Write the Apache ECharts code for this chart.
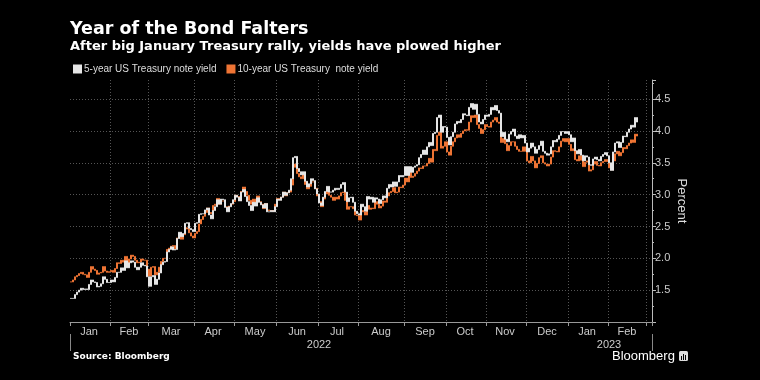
<!DOCTYPE html>
<html>
<head>
<meta charset="utf-8">
<script src="https://cdn.jsdelivr.net/npm/echarts@6/dist/echarts.min.js"></script>
<style>html,body{margin:0;padding:0;background:#000;}#c{width:760px;height:380px;}</style>
</head>
<body>
<div id="c"></div>
<script>
// ---- Data (daily closes) ----
const seriesNames = ['5-year US Treasury note yield', '10-year US Treasury  note yield'];
const startDate = '2022-01-03';
const endDate = '2023-03-03';
const holidays = ['2022-01-17','2022-02-21','2022-04-15','2022-05-30','2022-06-20','2022-07-04','2022-09-05','2022-10-10','2022-11-11','2022-11-24','2022-12-26','2023-01-02','2023-01-16','2023-02-20'];
const yTicks = [1.5, 2.0, 2.5, 3.0, 3.5, 4.0, 4.5];
const monthNames = ['Jan','Feb','Mar','Apr','May','Jun','Jul','Aug','Sep','Oct','Nov','Dec'];

const yield5 = [
  // Jan 2022
  1.37,1.37,1.43,1.47,1.50,1.53,1.51,1.52,1.51,1.59,1.66,1.63,1.62,1.55,1.56,1.60,1.71,1.67,1.62,1.62,
  // Feb
  1.66,1.63,1.70,1.78,1.78,1.85,1.81,1.96,1.85,1.93,1.96,1.94,1.86,1.82,1.86,1.93,1.89,1.88,1.71,
  // Mar
  1.56,1.71,1.73,1.59,1.67,1.77,1.90,1.94,1.95,2.10,2.14,2.18,2.13,2.14,2.31,2.41,2.34,2.39,2.55,2.56,2.47,2.45,2.42,
  // Apr
  2.55,2.56,2.69,2.70,2.70,2.76,2.79,2.68,2.62,2.75,2.81,2.92,2.85,2.93,2.92,2.80,2.73,2.81,2.86,2.92,
  // May
  2.99,2.96,2.90,3.04,3.08,2.97,2.89,2.83,2.75,2.88,2.82,2.95,2.88,2.84,2.79,2.86,2.73,2.73,2.75,2.73,2.81,
  // Jun
  2.93,2.91,2.96,3.04,2.99,3.03,3.07,3.25,3.58,3.60,3.41,3.36,3.31,3.36,3.21,3.12,3.17,3.25,3.22,3.09,3.01,
  // Jul
  2.87,2.83,2.96,3.05,3.13,3.04,3.04,3.07,3.10,3.08,3.10,3.16,3.19,3.04,2.89,2.95,2.96,2.88,2.74,2.70,
  // Aug
  2.68,2.85,2.81,2.74,2.97,2.93,2.96,2.88,2.95,2.93,2.86,2.92,2.98,2.95,3.10,3.16,3.12,3.20,3.13,3.20,3.30,3.28,3.30,
  // Sep
  3.44,3.30,3.44,3.35,3.43,3.45,3.47,3.58,3.63,3.70,3.63,3.75,3.82,3.77,3.96,3.98,4.21,4.25,3.98,4.07,4.06,
  // Oct
  3.90,3.78,3.91,3.98,4.11,4.15,4.13,4.18,4.27,4.25,4.24,4.37,4.43,4.34,4.42,4.26,4.14,4.11,4.18,4.25,
  // Nov
  4.23,4.26,4.37,4.33,4.40,4.32,4.28,3.91,3.98,3.87,3.83,3.95,3.99,4.03,3.92,3.88,3.94,3.89,3.93,3.81,
  // Dec
  3.67,3.73,3.81,3.75,3.65,3.71,3.77,3.84,3.68,3.65,3.62,3.64,3.75,3.85,3.83,3.87,3.93,3.99,3.99,3.96,3.99,
  // Jan 2023
  3.94,3.83,3.89,3.69,3.64,3.71,3.62,3.53,3.61,3.59,3.47,3.46,3.56,3.59,3.55,3.53,3.60,3.63,3.66,3.61,
  // Feb 2023
  3.50,3.38,3.67,3.81,3.83,3.74,3.82,3.92,3.91,3.98,4.03,4.09,4.06,4.21,4.14
];

const yield10 = [
  // Jan 2022
  1.63,1.66,1.71,1.73,1.76,1.78,1.75,1.74,1.70,1.78,1.87,1.83,1.81,1.75,1.77,1.78,1.87,1.80,1.78,1.79,
  // Feb
  1.81,1.78,1.84,1.93,1.92,1.97,1.94,2.03,1.92,1.99,2.05,2.03,1.97,1.93,1.94,1.99,1.97,1.97,1.83,
  // Mar
  1.72,1.86,1.87,1.74,1.78,1.86,1.95,2.00,2.00,2.14,2.16,2.19,2.20,2.15,2.32,2.38,2.30,2.37,2.48,2.46,2.40,2.35,2.32,
  // Apr
  2.39,2.42,2.54,2.61,2.66,2.72,2.79,2.72,2.70,2.83,2.85,2.94,2.85,2.90,2.90,2.81,2.77,2.82,2.85,2.89,
  // May
  2.99,2.97,2.93,3.05,3.12,3.05,2.99,2.91,2.85,2.93,2.88,2.98,2.89,2.85,2.78,2.86,2.76,2.75,2.75,2.74,2.85,
  // Jun
  2.94,2.92,2.96,3.04,2.98,3.03,3.04,3.15,3.43,3.48,3.33,3.28,3.25,3.31,3.16,3.09,3.13,3.20,3.20,3.10,2.98,
  // Jul
  2.89,2.81,2.93,3.01,3.08,2.99,2.96,2.91,2.96,2.93,2.98,3.03,3.04,2.91,2.77,2.81,2.81,2.78,2.68,2.67,
  // Aug
  2.60,2.75,2.73,2.68,2.83,2.77,2.79,2.78,2.89,2.85,2.79,2.82,2.90,2.88,2.98,3.03,3.05,3.11,3.03,3.04,3.12,3.11,3.15,
  // Sep
  3.26,3.20,3.35,3.27,3.29,3.33,3.37,3.42,3.41,3.45,3.45,3.49,3.57,3.51,3.71,3.69,3.93,3.98,3.73,3.76,3.83,
  // Oct
  3.67,3.62,3.76,3.83,3.89,3.94,3.90,3.96,4.00,4.02,4.01,4.14,4.24,4.21,4.25,4.10,4.04,3.96,4.02,4.10,
  // Nov
  4.07,4.06,4.14,4.17,4.21,4.14,4.12,3.82,3.88,3.80,3.69,3.77,3.83,3.83,3.76,3.71,3.68,3.68,3.75,3.68,
  // Dec
  3.53,3.50,3.60,3.53,3.42,3.49,3.58,3.61,3.50,3.48,3.45,3.48,3.59,3.69,3.68,3.67,3.75,3.84,3.88,3.83,3.88,
  // Jan 2023
  3.79,3.69,3.72,3.55,3.53,3.61,3.54,3.44,3.51,3.53,3.37,3.39,3.48,3.52,3.46,3.45,3.50,3.52,3.55,3.52,
  // Feb 2023
  3.42,3.39,3.53,3.64,3.68,3.61,3.66,3.74,3.72,3.77,3.81,3.86,3.82,3.95,3.92
];

// ---- Trading-day categories ----
const dates = [];
(function () {
  const d = new Date(startDate + 'T00:00:00Z');
  const end = new Date(endDate + 'T00:00:00Z');
  while (d <= end) {
    const s = d.toISOString().slice(0, 10);
    const wd = d.getUTCDay();
    if (wd !== 0 && wd !== 6 && holidays.indexOf(s) < 0) dates.push(s);
    d.setUTCDate(d.getUTCDate() + 1);
  }
})();

const monthStart = {}; const monthMid = {}; const yearStart = {}; const yearMid = {};
(function () {
  const groups = {};
  dates.forEach((s, i) => { const k = s.slice(0, 7); (groups[k] = groups[k] || []).push(i); });
  Object.keys(groups).forEach(k => {
    const g = groups[k];
    monthStart[g[0]] = true;
    if (g.length >= 10) monthMid[g[Math.floor((g.length - 1) / 2)]] = true;
  });
  const yg = {};
  dates.forEach((s, i) => { const y = s.slice(0, 4); (yg[y] = yg[y] || []).push(i); });
  Object.keys(yg).forEach((y, j) => {
    const g = yg[y];
    if (j > 0) yearStart[g[0]] = true;
    yearMid[g[Math.floor((g.length - 1) / 2)]] = true;
  });
})();

function toBars(v) {
  return v.map((c, i) => {
    const o = i > 0 ? v[i - 1] : c;
    return [o, c, Math.min(o, c), Math.max(o, c)];
  });
}

const white = '#e6e6e6';
const orange = '#ee7434';
const FONT = '"Liberation Sans", Arial, sans-serif';
const BOLD = '"DejaVu Sans", Verdana, sans-serif';

const chart = echarts.init(document.getElementById('c'), null, { renderer: 'canvas' });
chart.setOption({
  backgroundColor: '#000',
  animation: false,
  title: [
    { text: 'Year of the Bond Falters', left: 70, top: 20, padding: 0,
      textStyle: { color: '#fff', fontSize: 17.5, fontWeight: 'bold', fontFamily: BOLD } },
    { text: 'After big January Treasury rally, yields have plowed higher', left: 70, top: 40, padding: 0,
      textStyle: { color: '#fff', fontSize: 13, fontWeight: 'bold', fontFamily: BOLD } }
  ],
  legend: {
    left: 73, top: 64, padding: 0, itemWidth: 7, itemHeight: 7, itemGap: 10, icon: 'rect',
    textStyle: { color: '#ddd', fontSize: 10, fontFamily: FONT, padding: [0, 0, 0, -2] },
    data: [
      { name: seriesNames[0], itemStyle: { color: white } },
      { name: seriesNames[1], itemStyle: { color: orange } }
    ]
  },
  grid: { left: 70, right: 108, top: 80, bottom: 58 },
  xAxis: [
    {
      type: 'category', data: dates, boundaryGap: true,
      axisLine: { show: true, lineStyle: { color: '#999', width: 1 } },
      axisTick: { show: true, interval: (i) => !!monthStart[i], length: 4, lineStyle: { color: '#999' } },
      axisLabel: { interval: (i) => !!monthMid[i], color: '#ccc', fontSize: 11, fontFamily: FONT, margin: 4,
        formatter: (v) => monthNames[+v.slice(5, 7) - 1] },
      splitLine: { show: true, interval: (i) => !!monthStart[i] && i > 0, lineStyle: { color: '#555', type: [1, 2], width: 1 } }
    },
    {
      type: 'category', data: dates, boundaryGap: true, position: 'bottom', offset: 12,
      axisLine: { show: false },
      axisTick: { show: true, interval: (i) => !!yearStart[i], length: 17, lineStyle: { color: '#888' } },
      axisLabel: { interval: (i) => !!yearMid[i], color: '#ccc', fontSize: 11, fontFamily: FONT, margin: 5,
        formatter: (v) => v.slice(0, 4) },
      splitLine: { show: false }
    }
  ],
  yAxis: {
    type: 'value', position: 'right', min: 1, max: 4.8, interval: 0.5,
    axisLine: { show: true, lineStyle: { color: '#bbb' } },
    axisTick: { show: true, length: 4, lineStyle: { color: '#bbb' } },
    minorTick: { show: true, splitNumber: 2, length: 2, lineStyle: { color: '#bbb' } },
    axisLabel: { color: '#ccc', fontSize: 11, fontFamily: FONT, margin: 3, showMaxLabel: false,
      formatter: (v) => (yTicks.indexOf(+v.toFixed(2)) >= 0 ? v.toFixed(1) : '') },
    splitLine: { show: true, showMaxLine: false, showMinLine: false, lineStyle: { color: '#555', type: [1, 2], width: 1 } }
  },
  series: [
    {
      name: seriesNames[1], type: 'candlestick', data: toBars(yield10), barWidth: 1.4,
      itemStyle: { color: orange, color0: orange, borderColor: orange, borderColor0: orange, borderWidth: 1 }
    },
    {
      name: seriesNames[0], type: 'candlestick', data: toBars(yield5), barWidth: 1.4,
      itemStyle: { color: white, color0: white, borderColor: white, borderColor0: white, borderWidth: 1 }
    }
  ],
  graphic: [
    { type: 'text', x: 682, y: 201, rotation: -Math.PI / 2,
      style: { text: 'Percent', fill: '#ddd', font: '13px ' + FONT, textAlign: 'center', textVerticalAlign: 'middle' } },
    { type: 'text', left: 73, top: 352, style: { text: 'Source: Bloomberg', fill: '#fff', font: 'bold 9px ' + BOLD } },
    { type: 'text', left: 612, top: 350, style: { text: 'Bloomberg', fill: '#fff', font: '13px ' + FONT } },
    { type: 'rect', left: 679, top: 351, shape: { width: 9, height: 10, r: 1.5 }, style: { fill: '#ddd' } },
    { type: 'rect', left: 681, top: 356, shape: { width: 1, height: 4 }, style: { fill: '#000' } },
    { type: 'rect', left: 683, top: 354, shape: { width: 1, height: 6 }, style: { fill: '#000' } },
    { type: 'rect', left: 685, top: 355, shape: { width: 1, height: 5 }, style: { fill: '#000' } }
  ]
});
</script>
</body>
</html>
